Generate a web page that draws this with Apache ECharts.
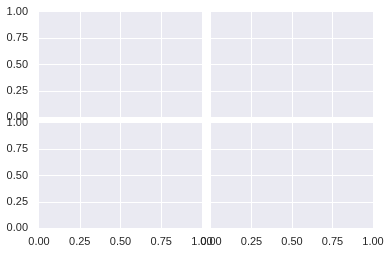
<!DOCTYPE html>
<html>
<head>
<meta charset="utf-8">
<script src="https://cdn.jsdelivr.net/npm/echarts@6/dist/echarts.min.js"></script>
<style>
html,body{margin:0;padding:0;background:#fff;}
#chart{width:390px;height:255px;}
</style>
</head>
<body>
<div id="chart"></div>
<script>
// Tick values (shared across all four subplots)
var xTicks = [0, 0.25, 0.5, 0.75, 1];
var yTicks = [0, 0.25, 0.5, 0.75, 1];
// Each panel is empty (no plotted data)
var panelData = [[], [], [], []];

var grids = [
  {left: 39, top: 12, width: 163, height: 105},
  {left: 211, top: 12, width: 162, height: 105},
  {left: 39, top: 123, width: 163, height: 105},
  {left: 211, top: 123, width: 162, height: 105}
];
var textColor = '#262626';
var fontFamily = '"Liberation Sans", Arial, sans-serif';

var option = {
  animation: false,
  backgroundColor: '#ffffff',
  grid: grids.map(function (g) {
    return Object.assign({show: true, backgroundColor: '#EAEAF2', borderWidth: 0, containLabel: false}, g);
  }),
  xAxis: grids.map(function (g, i) {
    var bottomRow = i >= 2;
    return {
      type: 'value', gridIndex: i,
      min: xTicks[0], max: xTicks[xTicks.length - 1], interval: xTicks[1] - xTicks[0],
      axisLine: {show: false}, axisTick: {show: false},
      axisLabel: {
        show: bottomRow, margin: 8, color: textColor, fontSize: 11, fontFamily: fontFamily,
        showMinLabel: true, showMaxLabel: true, hideOverlap: false,
        formatter: function (v) { return v.toFixed(2); }
      },
      splitLine: {show: true, showMinLine: false, showMaxLine: false, lineStyle: {color: '#ffffff', width: 1}}
    };
  }),
  yAxis: grids.map(function (g, i) {
    var leftCol = (i % 2) === 0;
    return {
      type: 'value', gridIndex: i,
      min: yTicks[0], max: yTicks[yTicks.length - 1], interval: yTicks[1] - yTicks[0],
      axisLine: {show: false}, axisTick: {show: false},
      axisLabel: {
        show: leftCol, margin: 11, color: textColor, fontSize: 11, fontFamily: fontFamily,
        showMinLabel: true, showMaxLabel: true, hideOverlap: false,
        formatter: function (v) { return v.toFixed(2); }
      },
      splitLine: {show: true, showMinLine: false, showMaxLine: false, lineStyle: {color: '#ffffff', width: 1}}
    };
  }),
  series: panelData.map(function (d, i) {
    return {type: 'line', xAxisIndex: i, yAxisIndex: i, data: d, silent: true};
  })
};

var chart = echarts.init(document.getElementById('chart'), null, {renderer: 'canvas'});
chart.setOption(option);
</script>
</body>
</html>
